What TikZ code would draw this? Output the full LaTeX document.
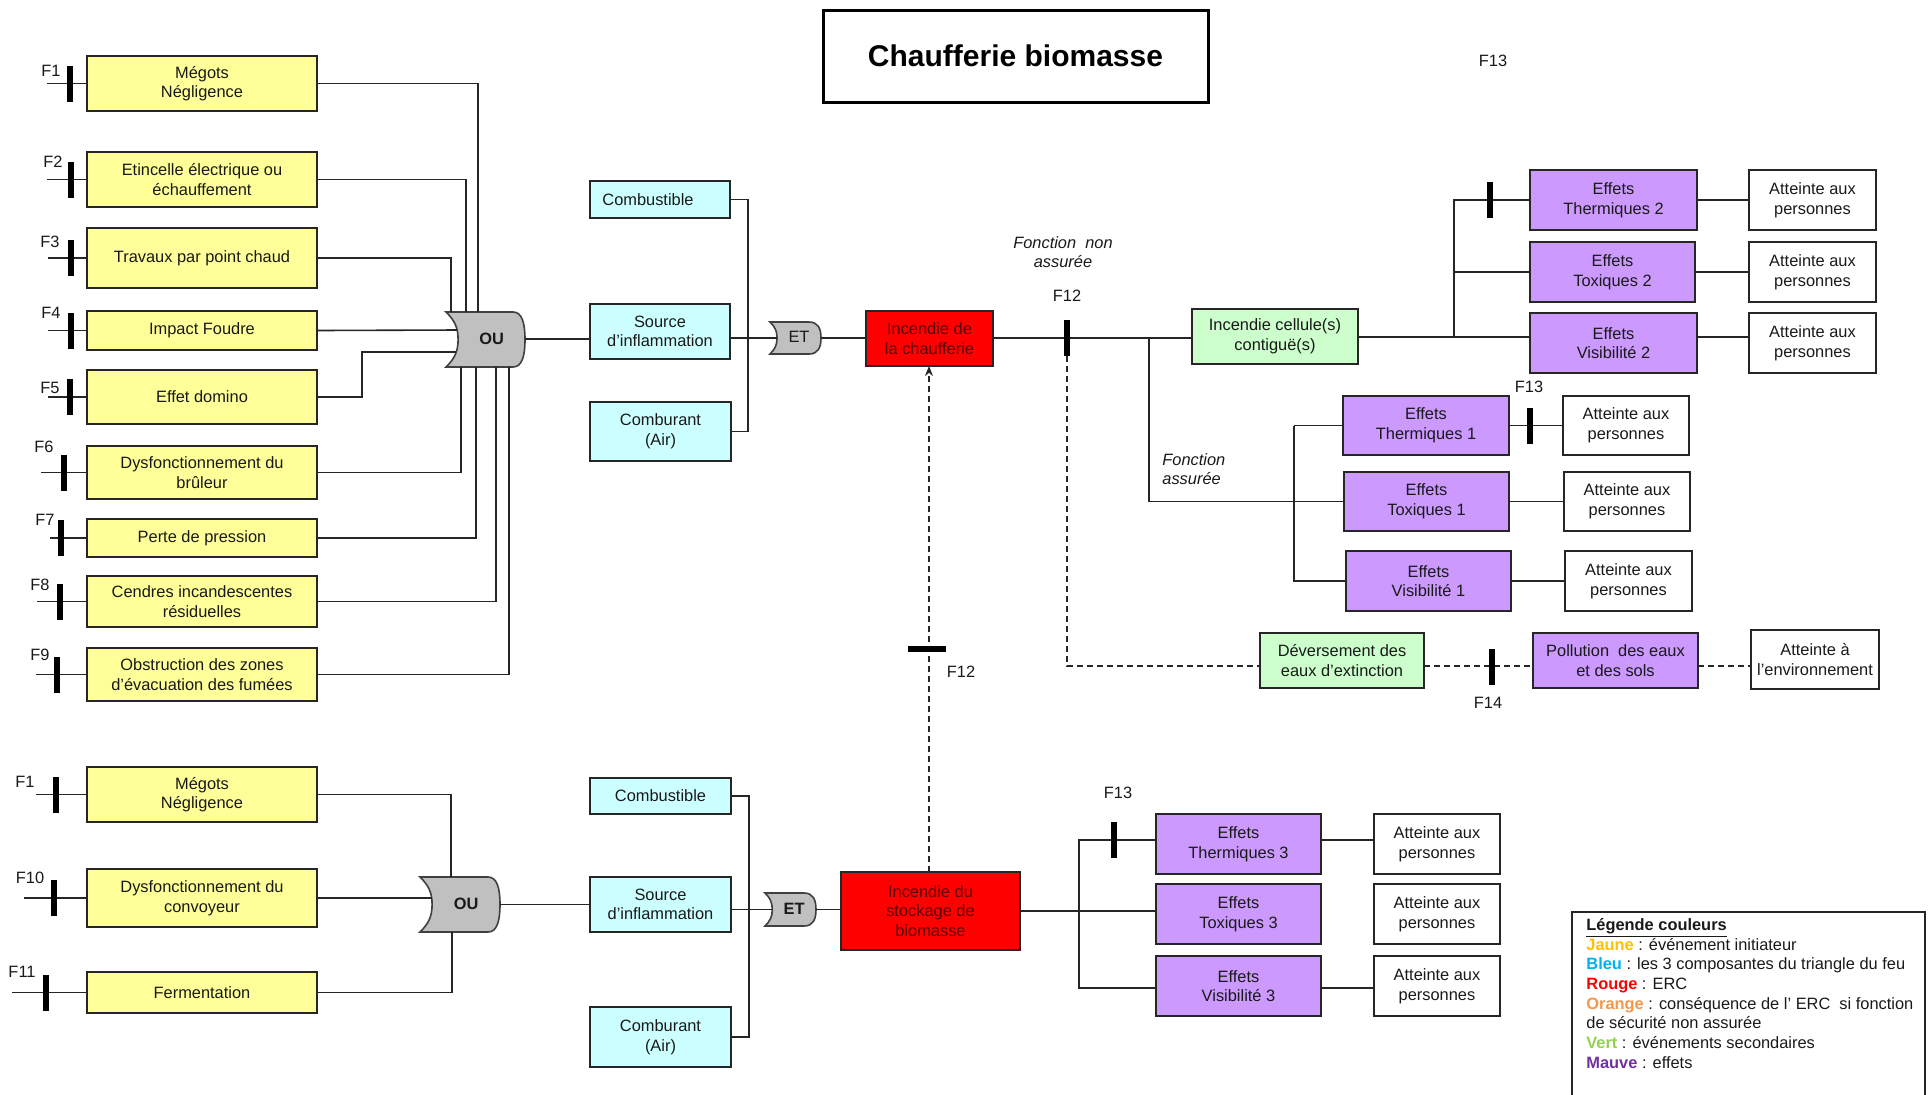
\documentclass[tikz,border=0pt]{standalone}
\usepackage{fontspec}
\setmainfont{Liberation Sans}
\usetikzlibrary{calc,arrows.meta}
\definecolor{yel}{HTML}{FFFF99}
\definecolor{cyn}{HTML}{CCFFFF}
\definecolor{grn}{HTML}{CCFFCC}
\definecolor{pur}{HTML}{CC99FF}
\definecolor{gatefill}{HTML}{C0C0C0}
\definecolor{redbox}{HTML}{FF0000}
\definecolor{redtxt}{HTML}{5A0000}
\definecolor{cJaune}{HTML}{FFC000}
\definecolor{cBleu}{HTML}{00B0F0}
\definecolor{cRouge}{HTML}{FF0000}
\definecolor{cOrange}{HTML}{F79646}
\definecolor{cVert}{HTML}{92D050}
\definecolor{cMauve}{HTML}{7030A0}
\newcommand\bx[7]{\node[#2, minimum width={(#5-#3)*0.5pt}, minimum height={(#6-#4)*0.5pt}] (#1) at ({(#3+#5)/2},{(#4+#6)/2}) {#7};}
\newcommand\fin[6]{%
  \coordinate (#1-sx) at (#2,0);
  \coordinate (#1-bx) at (#3,0);
  \coordinate (#1-s) at (#1-sx |- #1.west);
  \coordinate (#1-b) at (#1-bx |- #1.west);
  \draw[conn] (#1-s) -- (#1.west);
  \node[barv] (#1-bar) at (#1-b) {};
  \node[lab] (#1-lab) at (#4,#5) {#6};
}
\newcommand\gate[6]{%
  \pgfmathsetmacro\gtH{#5-#3}
  \pgfmathsetmacro\gtC{(#3+#5)/2}
  \pgfmathsetmacro\gtD{0.22*\gtH}
  \draw[gatestyle] (#2,#3) -- ({#4-12},#3) .. controls ({#4-3},#3) and (#4,{\gtC-0.3*\gtH}) .. (#4,\gtC)
     .. controls (#4,{\gtC+0.3*\gtH}) and ({#4-3},#5) .. ({#4-12},#5) -- (#2,#5)
     .. controls ({#2+0.7*\gtD},{#5-0.15*\gtH}) and ({#2+\gtD},{\gtC+0.22*\gtH}) .. ({#2+\gtD},\gtC)
     .. controls ({#2+\gtD},{\gtC-0.22*\gtH}) and ({#2+0.7*\gtD},{#3+0.15*\gtH}) .. (#2,#3) -- cycle;
  \node[gatelab] (#1) at ({(#2+\gtD+#4)/2},{\gtC-1}) {#6};
}
\begin{document}
\begin{tikzpicture}[x=0.5pt,y=-0.5pt,
  base/.style={draw=black!85, line width=0.9pt, inner sep=1pt, outer sep=0pt, align=center,
    font=\fontsize{8.2}{9.8}\selectfont, text=black!90},
  ybox/.style={base, fill=yel},
  cbox/.style={base, fill=cyn},
  gbox/.style={base, fill=grn},
  pbox/.style={base, fill=pur},
  wbox/.style={base, fill=white},
  rbox/.style={base, fill=redbox, text=redtxt},
  conn/.style={draw=black!85, line width=0.8pt},
  dconn/.style={conn, dash pattern=on 3pt off 2pt},
  barv/.style={fill=black, draw=none, minimum width=2.6pt, minimum height=18pt, inner sep=0pt, outer sep=0pt},
  barh/.style={fill=black, draw=none, minimum width=19pt, minimum height=2.6pt, inner sep=0pt, outer sep=0pt},
  lab/.style={font=\fontsize{8.2}{9.8}\selectfont, inner sep=0pt, text=black!90},
  itlab/.style={lab, font=\fontsize{8.2}{9.8}\selectfont\itshape, align=center},
  gatestyle/.style={draw=black!75, fill=gatefill, line width=0.8pt},
  gatelab/.style={font=\fontsize{8.2}{9.8}\selectfont\bfseries, inner sep=0pt, text=black!90}
]
\useasboundingbox (0,0) rectangle (1928,1094);

% Title
\node[draw=black, line width=1.5pt, minimum width=192.5pt, minimum height=46pt, inner sep=0pt,
  font=\fontsize{15}{18}\selectfont\bfseries] (title) at (1015.5,56) {Chaufferie biomasse};

% Initiating events (top tree)
\bx{f1}{ybox}{87}{56}{317}{111}{Mégots\\Négligence}
\bx{f2}{ybox}{87}{152}{317}{207}{Etincelle électrique ou\\échauffement}
\bx{f3}{ybox}{87}{228}{317}{288}{Travaux par point chaud}
\bx{f4}{ybox}{87}{311}{317}{350}{Impact Foudre}
\bx{f5}{ybox}{87}{370}{317}{424}{Effet domino}
\bx{f6}{ybox}{87}{446}{317}{499}{Dysfonctionnement du\\brûleur}
\bx{f7}{ybox}{87}{519}{317}{557}{Perte de pression}
\bx{f8}{ybox}{87}{576}{317}{627}{Cendres incandescentes\\résiduelles}
\bx{f9}{ybox}{87}{648}{317}{701}{Obstruction des zones\\d’évacuation des fumées}
% bottom tree
\bx{g1}{ybox}{87}{767}{317}{822}{Mégots\\Négligence}
\bx{g10}{ybox}{87}{869}{317}{927}{Dysfonctionnement du\\convoyeur}
\bx{g11}{ybox}{87}{972}{317}{1013}{Fermentation}

% Fire triangle
\bx{comb1}{cbox}{590}{181}{730}{218}{Combustible\hspace*{12pt}}
\bx{src1}{cbox}{590}{304}{730}{359}{Source\\d’inflammation}
\bx{air1}{cbox}{590}{402}{731}{461}{Comburant\\(Air)}
\bx{comb2}{cbox}{590}{778}{731}{814}{Combustible}
\bx{src2}{cbox}{590}{877}{731}{932}{Source\\d’inflammation}
\bx{air2}{cbox}{590}{1007}{731}{1067}{Comburant\\(Air)}

% ERC
\bx{red1}{rbox}{866}{311}{993}{366}{Incendie de\\la chaufferie}
\bx{red2}{rbox}{841}{872}{1020}{950}{Incendie du\\stockage de\\biomasse}

% Secondary
\bx{cell}{gbox}{1192}{309}{1358}{364}{Incendie cellule(s)\\contiguë(s)}
\bx{dev}{gbox}{1260}{633}{1424}{688}{Déversement des\\eaux d’extinction}

% Effects 2
\bx{th2}{pbox}{1530}{170}{1697}{230}{Effets\\Thermiques 2}
\bx{tox2}{pbox}{1530}{242}{1695}{302}{Effets\\Toxiques 2}
\bx{vis2}{pbox}{1530}{313}{1697}{373}{Effets\\Visibilité 2}
\bx{a2a}{wbox}{1749}{170}{1876}{230}{Atteinte aux\\personnes}
\bx{a2b}{wbox}{1749}{242}{1876}{302}{Atteinte aux\\personnes}
\bx{a2c}{wbox}{1749}{313}{1876}{373}{Atteinte aux\\personnes}
% Effects 1
\bx{th1}{pbox}{1343}{396}{1509}{455}{Effets\\Thermiques 1}
\bx{tox1}{pbox}{1344}{472}{1509}{531}{Effets\\Toxiques 1}
\bx{vis1}{pbox}{1346}{551}{1511}{611}{Effets\\Visibilité 1}
\bx{a1a}{wbox}{1563}{396}{1689}{455}{Atteinte aux\\personnes}
\bx{a1b}{wbox}{1564}{472}{1690}{531}{Atteinte aux\\personnes}
\bx{a1c}{wbox}{1565}{551}{1692}{611}{Atteinte aux\\personnes}
% Pollution
\bx{pol}{pbox}{1533}{633}{1698}{688}{Pollution \ des eaux\\et des sols}
\bx{env}{wbox}{1751}{630}{1879}{689}{Atteinte à\\l’environnement}
% Effects 3
\bx{th3}{pbox}{1156}{814}{1321}{874}{Effets\\Thermiques 3}
\bx{tox3}{pbox}{1156}{884}{1321}{944}{Effets\\Toxiques 3}
\bx{vis3}{pbox}{1156}{956}{1321}{1016}{Effets\\Visibilité 3}
\bx{a3a}{wbox}{1374}{814}{1500}{874}{Atteinte aux\\personnes}
\bx{a3b}{wbox}{1374}{884}{1500}{944}{Atteinte aux\\personnes}
\bx{a3c}{wbox}{1374}{956}{1500}{1016}{Atteinte aux\\personnes}

% Gates
\gate{ou1}{446}{312}{525}{367}{OU}
\gate{et1}{770}{322}{821}{354}{\mdseries ET}
\gate{ou2}{420}{877}{500}{932}{OU}
\gate{et2}{765}{893}{816}{926}{ET}

% Gate coordinates
\coordinate (ou1t1) at (478,312);
\coordinate (ou1t2) at (466,312);
\coordinate (ou1t3) at (451,312);
\coordinate (ou1l4) at (457,330);
\coordinate (ou1l5) at (456,352);
\coordinate (ou1b6) at (461,367);
\coordinate (ou1b7) at (476,367);
\coordinate (ou1b8) at (496,367);
\coordinate (ou1b9) at (509,367);
\coordinate (ou1o) at (525,339);
\coordinate (et1i) at (777,338);
\coordinate (et1o) at (821,338);
\coordinate (ou2t) at (451,877);
\coordinate (ou2l) at (432,898);
\coordinate (ou2b) at (452,932);
\coordinate (ou2o) at (500,904.5);
\coordinate (et2i) at (772,909.5);
\coordinate (et2o) at (816,909.5);
\coordinate (c5) at (362,352);

% Input stubs with barriers
\fin{f1}{47}{70}{51}{71}{F1}
\fin{f2}{47}{71}{53}{162}{F2}
\fin{f3}{48}{71}{50}{242}{F3}
\fin{f4}{48}{71}{51}{313}{F4}
\fin{f5}{48}{70}{50}{388}{F5}
\fin{f6}{41}{64}{44}{447}{F6}
\fin{f7}{50}{61}{45}{520}{F7}
\fin{f8}{37}{60}{40}{585}{F8}
\fin{f9}{36}{57}{40}{655}{F9}
\fin{g1}{36}{56}{25}{782}{F1}
\fin{g10}{24}{54}{30}{878}{F10}
\fin{g11}{12}{46}{22}{972}{F11}

% Connectors into OU1
\draw[conn] (f1.east) -| (ou1t1);
\draw[conn] (f2.east) -| (ou1t2);
\draw[conn] (f3.east) -| (ou1t3);
\draw[conn] (f4.east) -- (ou1l4);
\draw[conn] (f5.east) -| (c5) -- (ou1l5);
\draw[conn] (f6.east) -| (ou1b6);
\draw[conn] (f7.east) -| (ou1b7);
\draw[conn] (f8.east) -| (ou1b8);
\draw[conn] (f9.east) -| (ou1b9);
% Connectors into OU2
\draw[conn] (g1.east) -| (ou2t);
\draw[conn] (g10.east) -- (ou2l);
\draw[conn] (g11.east) -| (ou2b);

% OU -> source, triangle -> ET -> ERC
\draw[conn] (ou1o) -- (ou1o -| src1.west);
\draw[conn] (src1.east |- et1i) -- (et1i);
\draw[conn] (comb1.east) -| ($(air1.east)+(17,0)$) -- (air1.east);
\draw[conn] (et1o) -- (et1o -| red1.west);
\draw[conn] (ou2o) -- (ou2o -| src2.west);
\draw[conn] (src2.east |- et2i) -- (et2i);
\draw[conn] (comb2.east) -| ($(air2.east)+(18,0)$) -- (air2.east);
\draw[conn] (et2o) -- (et2o -| red2.west);

% ERC 1 -> cellule
\coordinate (j1) at (1149,338);
\coordinate (f12x) at (1067,338);
\draw[conn] (red1.east |- j1) -- (j1 -| cell.west);
\node[barv] (f12bar) at (f12x) {};
\node[lab] (f12lab) at (1067,296) {F12};
\node[itlab] (fna) at (1063,252) {Fonction \ non\\assurée};
% Fonction assuree branch
\draw[conn] (j1) |- (tox1.west);
\node[itlab, align=left, anchor=west] (fa) at (1162,469) {Fonction\\assurée};
\coordinate (j3) at (1294,425.5);
\draw[conn] (j3) -- (j3 -| th1.west);
\draw[conn] (j3) |- (vis1.west);
\draw[conn] (th1.east) -- (a1a.west);
\draw[conn] (tox1.east) -- (a1b.west);
\draw[conn] (vis1.east) -- (a1c.west);
\node[barv] (f13b1) at ($(th1.east)!0.39!(a1a.west)$) {};
\node[lab] (f13l1) at (1529,387) {F13};

% cellule -> effects 2
\coordinate (j2) at (1454,337);
\draw[conn] (cell.east |- j2) -- (j2) -- (j2 -| vis2.west);
\draw[conn] (j2) |- (th2.west);
\draw[conn] (j2) |- (tox2.west);
\draw[conn] (th2.east) -- (a2a.west);
\draw[conn] (tox2.east) -- (a2b.west);
\draw[conn] (vis2.east |- j2) -- (a2c.west |- j2);
\node[barv] (f13b2) at (th2.west -| 1490,0) {};
\node[lab] (f13l2) at (1493,61) {F13};

% Dashed path: extinction water
\coordinate (d1) at (1067,666);
\draw[dconn] (f12bar.south) -- (d1) -- (d1 -| dev.west);
\draw[dconn] (dev.east |- d1) -- (pol.west |- d1);
\draw[dconn] (pol.east |- d1) -- (env.west |- d1);
\node[barv] (f14bar) at (1492,667) {};
\node[lab] (f14lab) at (1488,703) {F14};

% Dashed arrow from storage fire to boiler fire
\coordinate (ax) at (929,0);
\draw[dconn, -{Stealth[length=5pt,width=4pt]}] (ax |- red2.north) -- (ax |- red1.south);
\node[barh] (f12hbar) at (927,649) {};
\node[lab] (f12lab2) at (961,672) {F12};

% ERC 2 -> effects 3
\coordinate (j4) at (1079,911);
\draw[conn] (red2.east |- j4) -- (j4 -| tox3.west);
\draw[conn] (j4) |- ($(th3.west)+(0,-4)$);
\draw[conn] (j4) |- ($(vis3.west)+(0,2)$);
\draw[conn] ($(th3.east)+(0,-4)$) -- ($(a3a.west)+(0,-4)$);
\draw[conn] ($(vis3.east)+(0,2)$) -- ($(a3c.west)+(0,2)$);
\node[barv] (f13b3) at (1114,840) {};
\node[lab] (f13l3) at (1118,793) {F13};

% Legend
\draw[draw=black!85, line width=0.9pt] (1572,1100) -- (1572,912) -- (1925,912) -- (1925,1100);
\node[lab, align=left, anchor=north west, font=\fontsize{8.2}{9.85}\selectfont] (legend) at (1586,918) {%
\underline{\textbf{Légende couleurs}}\\
{\color{cJaune}\textbf{Jaune}} : événement initiateur\\
{\color{cBleu}\textbf{Bleu}} : les 3 composantes du triangle du feu\\
{\color{cRouge}\textbf{Rouge}} : ERC\\
{\color{cOrange}\textbf{Orange}} : conséquence de l’ ERC \ si fonction\\
de sécurité non assurée\\
{\color{cVert}\textbf{Vert}} : événements secondaires\\
{\color{cMauve}\textbf{Mauve}} : effets};
\end{tikzpicture}
\end{document}
